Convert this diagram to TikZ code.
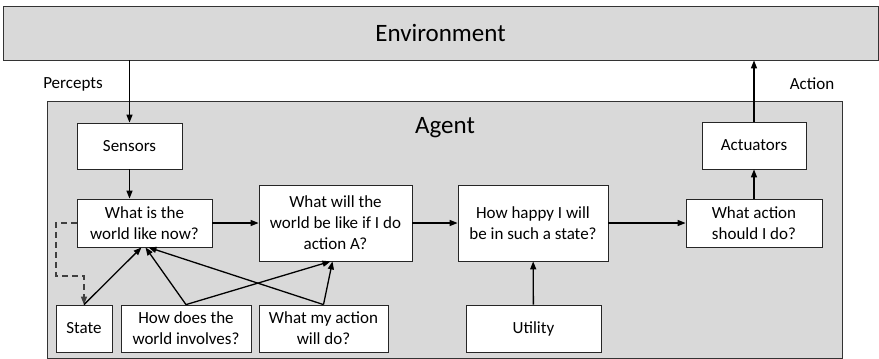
\documentclass[tikz,border=0pt]{standalone}
\usepackage{fontspec}
\setmainfont{Carlito}
\usetikzlibrary{arrows.meta}
\begin{document}
\begin{tikzpicture}[x=1pt,y=-1pt,
  panel/.style={draw=black!80,line width=0.8pt,fill=black!15,inner sep=0pt},
  box/.style={draw=black!85,line width=0.8pt,fill=white,inner sep=0pt,align=center,
    font=\fontsize{17}{21}\selectfont},
  lbl/.style={inner sep=0pt,font=\fontsize{17}{21}\selectfont},
  big/.style={inner sep=0pt,font=\fontsize{25}{30}\selectfont},
  flow/.style={line width=1.3pt,-{Triangle[length=8pt,width=6pt]}},
  dashflow/.style={line width=1.3pt,black!75,dash pattern=on 6pt off 4pt,-{Triangle[length=8pt,width=6pt]}}]
\useasboundingbox (0,0) rectangle (879,359);

% outer panels
\node[panel,minimum width=875,minimum height=54] (env) at (440.5,33) {};
\node[big] (envtxt) at (440.5,33) {Environment};
\node[panel,minimum width=795,minimum height=257] (agent) at (444.5,229.5) {};
\node[big] (agenttxt) at (445,128) {Agent};

\node[lbl] (percepts) at (73,84) {Percepts};
\node[lbl] (action) at (812,84) {Action};

% components of the agent
\node[box,minimum width=105,minimum height=46] (sensors) at (129.5,146) {Sensors};
\node[box,minimum width=104,minimum height=47] (actuators) at (754,145.5) {Actuators};
\node[box,minimum width=135,minimum height=48] (now) at (144.5,223) {What is the\\world like now?};
\node[box,minimum width=153,minimum height=76] (will) at (335.5,223) {What will the\\world be like if I do\\action A?};
\node[box,minimum width=150,minimum height=76] (happy) at (533,223) {How happy I will\\be in such a state?};
\node[box,minimum width=136,minimum height=48] (choose) at (754,223) {What action\\should I do?};
\node[box,minimum width=56,minimum height=47] (state) at (84,328.5) {State};
\node[box,minimum width=130,minimum height=47] (evolve) at (186,328.5) {How does the\\world involves?};
\node[box,minimum width=129,minimum height=47] (effect) at (323.5,328.5) {What my action\\will do?};
\node[box,minimum width=135,minimum height=47] (utility) at (533.5,328.5) {Utility};

% connectors
\draw[flow] (sensors.north |- env.south) -- (sensors.north);
\draw[flow] (actuators.north) -- (actuators.north |- env.south);
\draw[flow] (sensors.south) -- (sensors.south |- now.north);
\draw[flow] (now) -- (will);
\draw[flow] (will) -- (happy);
\draw[flow] (happy) -- (choose);
\draw[flow] (choose) -- (actuators);
\draw[flow] (utility) -- (happy);

\coordinate (dturn) at (56,276);
\draw[dashflow] (now.west) -| (dturn) -| (state.north);

\draw[flow] (state.north) -- ([xshift=-3pt]now.south);
\draw[flow] (evolve.north) -- ([xshift=1pt]now.south);
\draw[flow] (effect.north) -- ([xshift=4pt]now.south);
\draw[flow] (evolve.north) -- ([xshift=-5pt]will.south);
\draw[flow] (effect.north) -- ([xshift=-3pt]will.south);
\end{tikzpicture}
\end{document}
